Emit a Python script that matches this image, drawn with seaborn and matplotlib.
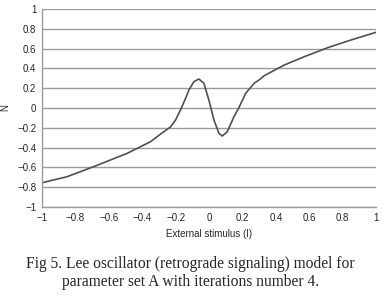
import numpy as np
import pandas as pd
import matplotlib
matplotlib.use("Agg")
import matplotlib.pyplot as plt
import seaborn as sns

# curve values
stimulus = [-1.0, -0.85, -0.69, -0.49, -0.35, -0.29, -0.27, -0.23, -0.2,
            -0.171, -0.145, -0.121, -0.091, -0.061, -0.031, -0.001, 0.029,
            0.059, 0.079, 0.109, 0.149, 0.179, 0.219, 0.245, 0.27, 0.299,
            0.33, 0.45, 0.57, 0.71, 0.85, 1.0]
n_values = [-0.755, -0.694, -0.592, -0.458, -0.34, -0.263, -0.239, -0.19, -0.12,
            -0.02, 0.08, 0.18, 0.266, 0.293, 0.25, 0.08, -0.12,
            -0.256, -0.283, -0.24, -0.088, 0.005, 0.148, 0.2, 0.25, 0.283,
            0.326, 0.434, 0.518, 0.609, 0.687, 0.765]
ticks = [-1, -0.8, -0.6, -0.4, -0.2, 0, 0.2, 0.4, 0.6, 0.8, 1]
tick_labels = ["\u22121", "\u22120.8", "\u22120.6", "\u22120.4", "\u22120.2", "0",
               "0.2", "0.4", "0.6", "0.8", "1"]
caption = ("Fig 5. Lee oscillator (retrograde signaling) model for\n"
           "parameter set A with iterations number 4.")

df = pd.DataFrame({"I": stimulus, "N": n_values})

sns.set_style("white")
plt.rcParams["font.family"] = ["Liberation Sans", "DejaVu Sans"]

fig = plt.figure(figsize=(3.83, 2.96), dpi=100)
ax = fig.add_axes([0.1097, 0.3007, 0.8723, 0.6689])

for t in ticks:
    ax.axhline(t, color="#9a9a9a", lw=1.0, zorder=0)

sns.lineplot(data=df, x="I", y="N", ax=ax, color="#505050", lw=1.2)

ax.set_xlim(-1, 1)
ax.set_ylim(-1, 1)
ax.set_xticks(ticks)
ax.set_xticklabels(tick_labels, fontsize=7)
ax.set_yticks(ticks)
ax.set_yticklabels(tick_labels, fontsize=7)
ax.tick_params(length=0, pad=4)
ax.set_xlabel("External stimulus (I)", fontsize=7, labelpad=5)
ax.set_ylabel("N", fontsize=7)
ax.yaxis.set_label_coords(-0.095, 0.5)

for s in ["top", "right"]:
    ax.spines[s].set_visible(False)
for s in ["left", "bottom"]:
    ax.spines[s].set_color("#9a9a9a")
    ax.spines[s].set_linewidth(1.0)

fig.text(0.497, 0.077, caption, ha="center", va="center", fontsize=11.2,
         family="Liberation Serif", linespacing=1.15)

fig.savefig("out.png", dpi=100)
